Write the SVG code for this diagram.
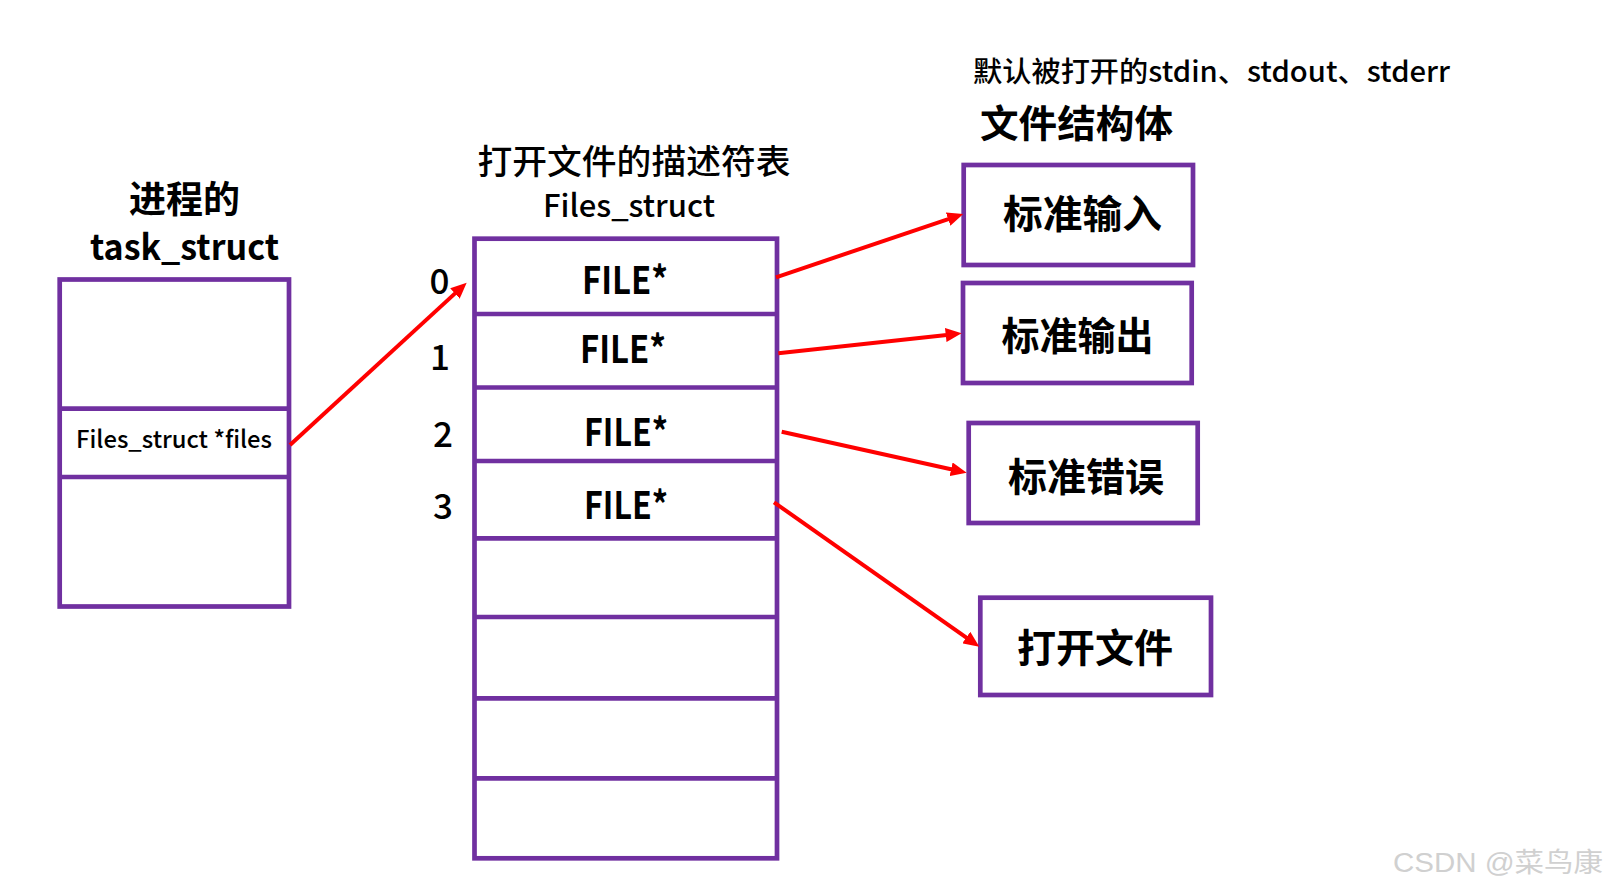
<svg xmlns="http://www.w3.org/2000/svg" width="1609" height="894" viewBox="0 0 1609 894">
<defs>
<style>
.box{fill:#fff;stroke:#7030A0;stroke-width:4.7}
.div{stroke:#7030A0;stroke-width:4.7}
.t{font-family:"Noto Sans CJK SC","Microsoft YaHei","Noto Sans",sans-serif;fill:#000;text-anchor:middle}
.b{font-weight:bold}
.arr{stroke:#FF0000;stroke-width:4;fill:none;marker-end:url(#ah)}
</style>
<marker id="ah" viewBox="0 0 16 14" markerWidth="16" markerHeight="14" markerUnits="userSpaceOnUse" refX="8" refY="7" orient="auto">
<path d="M0,0 L16,7 L0,14 z" fill="#FF0000"/>
</marker>
</defs>
<rect width="1609" height="894" fill="#fff"/>

<g id="task_struct">
<text class="t b" x="184.5" y="213" font-size="37">进程的</text>
<text class="t b" x="184.5" y="260" font-size="35" textLength="189" lengthAdjust="spacingAndGlyphs">task_struct</text>
<rect class="box" x="59.7" y="279.5" width="229.3" height="327"/>
<line class="div" x1="59.7" y1="408.7" x2="289" y2="408.7"/>
<line class="div" x1="59.7" y1="477" x2="289" y2="477"/>
<text class="t" x="174" y="448" font-size="24" textLength="196" lengthAdjust="spacingAndGlyphs" font-weight="500">Files_struct *files</text>
</g>

<g id="files_struct">
<text class="t" x="634" y="174" font-size="34" textLength="313" lengthAdjust="spacingAndGlyphs" font-weight="500">打开文件的描述符表</text>
<text class="t" x="629" y="217" font-size="31" textLength="172" lengthAdjust="spacingAndGlyphs" font-weight="500">Files_struct</text>
<rect class="box" x="474.5" y="238.7" width="302.5" height="619.6"/>
<line class="div" x1="474.5" y1="314" x2="777" y2="314"/>
<line class="div" x1="474.5" y1="387.5" x2="777" y2="387.5"/>
<line class="div" x1="474.5" y1="461" x2="777" y2="461"/>
<line class="div" x1="474.5" y1="538.3" x2="777" y2="538.3"/>
<line class="div" x1="474.5" y1="617" x2="777" y2="617"/>
<line class="div" x1="474.5" y1="698.3" x2="777" y2="698.3"/>
<line class="div" x1="474.5" y1="778.3" x2="777" y2="778.3"/>
<text class="t b" x="625" y="294" font-size="38" textLength="86" lengthAdjust="spacingAndGlyphs">FILE*</text>
<text class="t b" x="623" y="363" font-size="38" textLength="86" lengthAdjust="spacingAndGlyphs">FILE*</text>
<text class="t b" x="626" y="446" font-size="38" textLength="84" lengthAdjust="spacingAndGlyphs">FILE*</text>
<text class="t b" x="626" y="519" font-size="38" textLength="84" lengthAdjust="spacingAndGlyphs">FILE*</text>
<text class="t" x="439.5" y="294" font-size="35" font-weight="500">0</text>
<text class="t" x="440" y="370" font-size="35" font-weight="500">1</text>
<text class="t" x="443" y="447" font-size="35" font-weight="500">2</text>
<text class="t" x="443" y="519" font-size="35" font-weight="500">3</text>
</g>

<g id="file_objects_title">
<text class="t" x="1211.5" y="82" font-size="28" textLength="477" lengthAdjust="spacingAndGlyphs" font-weight="500">默认被打开的stdin、stdout、stderr</text>
<text class="t b" x="1076.5" y="137" font-size="38" textLength="193" lengthAdjust="spacingAndGlyphs">文件结构体</text>
</g>

<g id="stdin">
<rect class="box" x="963.7" y="165" width="229.3" height="100"/>
<text class="t b" x="1082.5" y="228" font-size="39" textLength="159" lengthAdjust="spacingAndGlyphs">标准输入</text>
</g>
<g id="stdout">
<rect class="box" x="963" y="283" width="228.7" height="100"/>
<text class="t b" x="1077.5" y="350" font-size="39" textLength="152" lengthAdjust="spacingAndGlyphs">标准输出</text>
</g>
<g id="stderr">
<rect class="box" x="968.7" y="423" width="229" height="100"/>
<text class="t b" x="1086" y="491" font-size="39" textLength="156" lengthAdjust="spacingAndGlyphs">标准错误</text>
</g>
<g id="openfile">
<rect class="box" x="980.3" y="597.7" width="230.7" height="97.3"/>
<text class="t b" x="1095" y="662" font-size="39" textLength="156" lengthAdjust="spacingAndGlyphs">打开文件</text>
</g>

<g id="connectors">
<line class="arr" x1="290" y1="445" x2="460.8" y2="288.1"/>
<line class="arr" x1="776" y1="277.3" x2="955.7" y2="216.6"/>
<line class="arr" x1="778.3" y1="353.3" x2="953.7" y2="334.2"/>
<line class="arr" x1="781.7" y1="431.7" x2="958.9" y2="471"/>
<line class="arr" x1="774" y1="502.3" x2="972.8" y2="642.1"/>
</g>

<text x="1603" y="872" font-family="Liberation Sans,'Noto Sans CJK SC',sans-serif" font-size="27" fill="#d0d0d0" text-anchor="end" textLength="210" lengthAdjust="spacingAndGlyphs">CSDN @菜鸟康</text>
</svg>
